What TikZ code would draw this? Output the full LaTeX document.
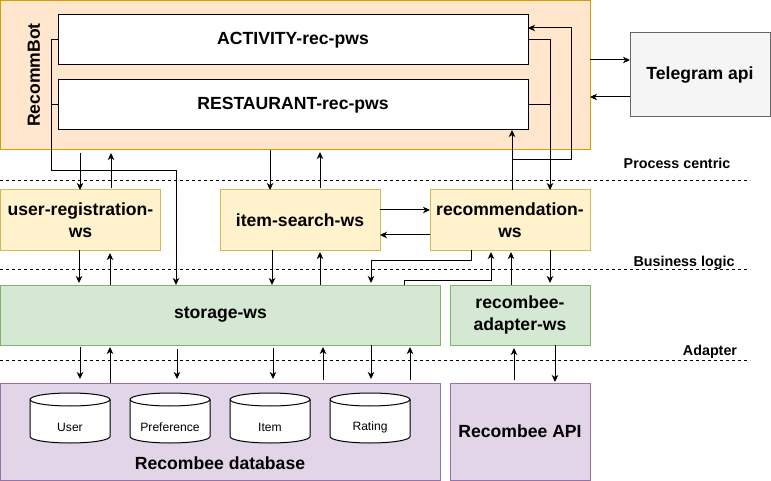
\documentclass[tikz,border=0pt]{standalone}
\usepackage{fontspec}
\setmainfont{Liberation Sans}
\usetikzlibrary{arrows.meta}
\definecolor{botfill}{HTML}{FFE6CC}
\definecolor{botdraw}{HTML}{D79B00}
\definecolor{yelfill}{HTML}{FFF2CC}
\definecolor{yeldraw}{HTML}{D6B656}
\definecolor{grnfill}{HTML}{D5E8D4}
\definecolor{grndraw}{HTML}{82B366}
\definecolor{purfill}{HTML}{E1D5E7}
\definecolor{purdraw}{HTML}{9673A6}
\definecolor{gryfill}{HTML}{F5F5F5}
\definecolor{grydraw}{HTML}{666666}
\newcommand\lblfont{\fontsize{17.6}{22}\selectfont\bfseries}
\newcommand\lyrfont{\fontsize{14.3}{17}\selectfont\bfseries}
\newcommand\cylfont{\fontsize{12.1}{14}\selectfont}
\begin{document}
\begin{tikzpicture}[x=1pt,y=-1pt,
  box/.style={draw, line width=1pt, inner sep=0pt, outer sep=0pt, anchor=north west, align=center, font=\lblfont},
  arr/.style={-{Stealth[length=7pt,width=6.5pt,inset=2pt]}, line width=1pt},
  ln/.style={line width=1pt},
  dsh/.style={line width=0.8pt, dash pattern=on 3pt off 3pt},
  lyr/.style={font=\lyrfont, inner sep=0pt},
  cyl/.style={draw, line width=1pt, fill=white}]
\useasboundingbox (0,0) rectangle (771,481);

% boxes
\node[box, fill=botfill, draw=botdraw, minimum width=589.5pt, minimum height=149.5pt] (bot) at (0.5,0.5) {};
\node[font=\lblfont, rotate=90, inner sep=0pt] (botlbl) at (34,75) {RecommBot};
\node[box, fill=white, minimum width=470pt, minimum height=50pt] (act) at (58,15) {ACTIVITY-rec-pws};
\node[box, fill=white, minimum width=470pt, minimum height=50pt] (rest) at (58,80) {RESTAURANT-rec-pws};
\node[box, fill=gryfill, draw=grydraw, minimum width=140pt, minimum height=84pt] (tg) at (630,33) {Telegram api};

\node[box, fill=yelfill, draw=yeldraw, minimum width=160pt, minimum height=60pt] (ureg) at (0.5,190) {user-registration-\\ws};
\node[box, fill=yelfill, draw=yeldraw, minimum width=160pt, minimum height=60pt] (isearch) at (220,190) {item-search-ws};
\node[box, fill=yelfill, draw=yeldraw, minimum width=160pt, minimum height=60pt] (rec) at (430,190) {recommendation-\\ws};

\node[box, fill=grnfill, draw=grndraw, minimum width=440pt, minimum height=60pt] (stor) at (0.5,285) {storage-ws};
\node[box, fill=grnfill, draw=grndraw, minimum width=140pt, minimum height=60pt] (adapt) at (450,285) {recombee-\\adapter-ws};

\node[box, fill=purfill, draw=purdraw, minimum width=440pt, minimum height=97pt] (db) at (0.5,383) {};
\node[font=\lblfont, inner sep=0pt] (dblbl) at (220,463) {Recombee database};
\node[box, fill=purfill, draw=purdraw, minimum width=140pt, minimum height=97pt] (api) at (450,383) {Recombee API};

% cylinders
\foreach \cx/\nm/\txt in {30/cu/User, 130/cp/Preference, 230/ci/Item, 330/cr/Rating}{
  \draw[cyl] (\cx,399.5) -- (\cx,436.5) arc[start angle=180, end angle=0, x radius=40, y radius=6.5]
        -- (\cx+80,399.5) arc[start angle=0, end angle=-180, x radius=40, y radius=6.5] -- cycle;
  \draw[line width=1pt] (\cx,399.5) arc[start angle=180, end angle=0, x radius=40, y radius=6.5];
  \node[font=\cylfont, inner sep=0pt] (\nm) at (\cx+40,427) {\txt};
}

% layer lines and labels
\draw[dsh] (0,180) -- (750,180);
\draw[dsh] (0,269) -- (750,269);
\draw[dsh] (0,360) -- (750,360);
\node[lyr] (lpc) at (677,163) {Process centric};
\node[lyr] (lbl) at (684,263) {Business logic};
\node[lyr] (lad) at (710,352) {Adapter};

% telegram
\draw[arr] (bot.east |- 0,60) -- (tg.west |- 0,60);
\draw[arr] (tg.west |- 0,97) -- (bot.east |- 0,97);

% left bus
\draw[arr] (act.west) -- ++(-7,0) |- (176,171) -- (176,0 |- stor.north);
\draw[ln] (rest.west) -- ++(-7,0);

% right bus
\draw[arr] (act.east) -- ++(22,0) -- (550,0 |- rec.north);
\draw[ln] (rest.east) -- ++(22,0);
\draw[arr] (512,0 |- rec.north) -- (512,0 |- rest.south);
\draw[arr] (512,0 |- rec.north) -- (512,160) -| (571,28) -- (act.east |- 0,28);

% RecommBot <-> middle
\draw[arr, shorten <=3pt] (80,0 |- bot.south) -- (80,0 |- ureg.north);
\draw[arr, shorten <=2pt, shorten >=3pt] (111,0 |- ureg.north) -- (111,0 |- bot.south);
\draw[arr] (270,0 |- bot.south) -- (270,0 |- isearch.north);
\draw[arr, shorten <=2pt, shorten >=2pt] (320,0 |- isearch.north) -- (320,0 |- bot.south);

% middle <-> storage
\draw[arr, shorten >=2pt] (79,0 |- ureg.south) -- (79,0 |- stor.north);
\draw[arr, shorten >=3pt] (110,0 |- stor.north) -- (110,0 |- ureg.south);
\draw[arr] (272,0 |- isearch.south) -- (272,0 |- stor.north);
\draw[arr, shorten >=2pt] (320,0 |- stor.north) -- (320,0 |- isearch.south);
\draw[arr] (isearch.east |- 0,210) -- (rec.west |- 0,210);
\draw[arr] (rec.west |- 0,235) -- (isearch.east |- 0,235);
\draw[arr, shorten >=2pt] (471,0 |- rec.south) -- (471,260) -| (371,0 |- stor.north);
\draw[arr, shorten >=2pt] (404,0 |- stor.north) -- (404,280) -| (491,0 |- rec.south);
\draw[arr, shorten >=2pt] (511,0 |- adapt.north) -- (511,0 |- rec.south);
\draw[arr, shorten >=2pt] (550,0 |- rec.south) -- (550,0 |- adapt.north);

% storage <-> database
\draw[arr, shorten <=2pt, shorten >=4pt] (80,0 |- stor.south) -- (80,0 |- db.north);
\draw[arr, shorten >=2pt] (110,0 |- db.north) -- (110,0 |- stor.south);
\draw[arr, shorten <=4pt, shorten >=4pt] (177,0 |- stor.south) -- (177,0 |- db.north);
\draw[arr, shorten <=3pt, shorten >=4pt] (273,0 |- stor.south) -- (273,0 |- db.north);
\draw[arr, shorten <=3pt, shorten >=2pt] (323,0 |- db.north) -- (323,0 |- stor.south);
\draw[arr, shorten >=4pt] (371,0 |- stor.south) -- (371,0 |- db.north);
\draw[arr, shorten <=3pt, shorten >=2pt] (410,0 |- db.north) -- (410,0 |- stor.south);

% adapter <-> API
\draw[arr, shorten <=3pt, shorten >=3pt] (514,0 |- api.north) -- (514,0 |- adapt.south);
\draw[arr, shorten >=1pt] (555,0 |- adapt.south) -- (555,0 |- api.north);
\end{tikzpicture}
\end{document}
